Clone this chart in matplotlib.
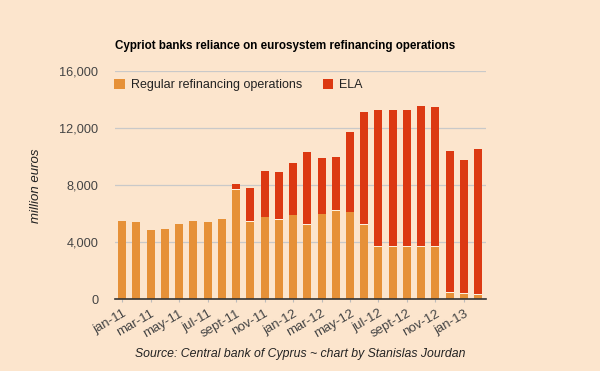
import matplotlib.pyplot as plt
import numpy as np

plt.rcParams['font.family'] = ['Liberation Sans', 'DejaVu Sans']

months = ['jan-11', 'feb-11', 'mar-11', 'apr-11', 'may-11', 'jun-11', 'jul-11', 'aug-11',
          'sept-11', 'oct-11', 'nov-11', 'dec-11', 'jan-12', 'feb-12', 'mar-12', 'apr-12',
          'may-12', 'jun-12', 'jul-12', 'aug-12', 'sept-12', 'oct-12', 'nov-12', 'dec-12',
          'jan-13', 'feb-13']
regular = [5500, 5420, 4860, 4930, 5300, 5500, 5420, 5630, 7650, 5400, 5750, 5540, 5890,
           5190, 5960, 6220, 6100, 5190, 3690, 3690, 3690, 3690, 3690, 460, 390, 320]
total = [5500, 5420, 4860, 4930, 5300, 5500, 5420, 5630, 8090, 7830, 9000, 8930, 9560,
         10340, 9910, 9980, 11740, 13140, 13280, 13280, 13280, 13560, 13490, 10410, 9770, 10550]
ela = [t - r for t, r in zip(total, regular)]

bg = '#fce5cd'
c_reg = '#e69138'
c_ela = '#dc3912'

fig = plt.figure(figsize=(6, 3.71), dpi=100, facecolor=bg)
ax = fig.add_axes([0.1917, 0.1933, 0.6183, 0.6145], facecolor=bg)

x = np.arange(len(months))
ax.bar(x, regular, width=0.56, color=c_reg, label='Regular refinancing operations', zorder=3)
ax.bar(x, ela, width=0.56, bottom=regular, color=c_ela, label='ELA', zorder=3)
# thin light separator between the two segments
sep = [r if e > 0 else np.nan for r, e in zip(regular, ela)]
ax.bar(x, [60 if e > 0 else 0 for e in ela], width=0.56, bottom=sep, color='#fdf0e0', zorder=4)

ax.set_xlim(-0.5, 25.55)
ax.set_ylim(0, 16000)
ax.set_yticks([0, 4000, 8000, 12000, 16000])
ax.set_yticklabels(['0', '4,000', '8,000', '12,000', '16,000'])
ax.grid(axis='y', color='#c9c9c9', linewidth=0.9, zorder=0)

ax.set_xticks(x[::2])
ax.set_xticklabels(months[::2], rotation=30, ha='right', rotation_mode='anchor')
ax.tick_params(axis='x', length=2, color='#bbbbbb', labelsize=9.5, labelcolor='#444444', pad=4)
ax.tick_params(axis='y', length=0, labelsize=9.2, labelcolor='#444444', pad=12)

for s in ['top', 'right', 'left']:
    ax.spines[s].set_visible(False)
ax.spines['bottom'].set_color('#333333')
ax.spines['bottom'].set_linewidth(1.2)
ax.spines['bottom'].set_zorder(5)

ax.set_ylabel('million euros', style='italic', fontsize=9.5, color='#222222')
ax.yaxis.set_label_coords(-0.197, 0.5)

leg = ax.legend(loc='upper left', bbox_to_anchor=(-0.025, 1.005), ncol=2, frameon=False,
                fontsize=9.0, handlelength=0.85, handleheight=0.85, columnspacing=1.6,
                handletextpad=0.5, borderaxespad=0.3)
for t in leg.get_texts():
    t.set_color('#222222')

fig.text(0.1917, 0.876, 'Cypriot banks reliance on eurosystem refinancing operations',
         fontsize=8.4, fontweight='bold', color='#000000', va='center')
fig.text(0.5, 0.045, 'Source: Central bank of Cyprus ~ chart by Stanislas Jourdan',
         fontsize=8.8, style='italic', color='#222222', ha='center', va='center')

fig.savefig('out.png', dpi=100, facecolor=bg)
